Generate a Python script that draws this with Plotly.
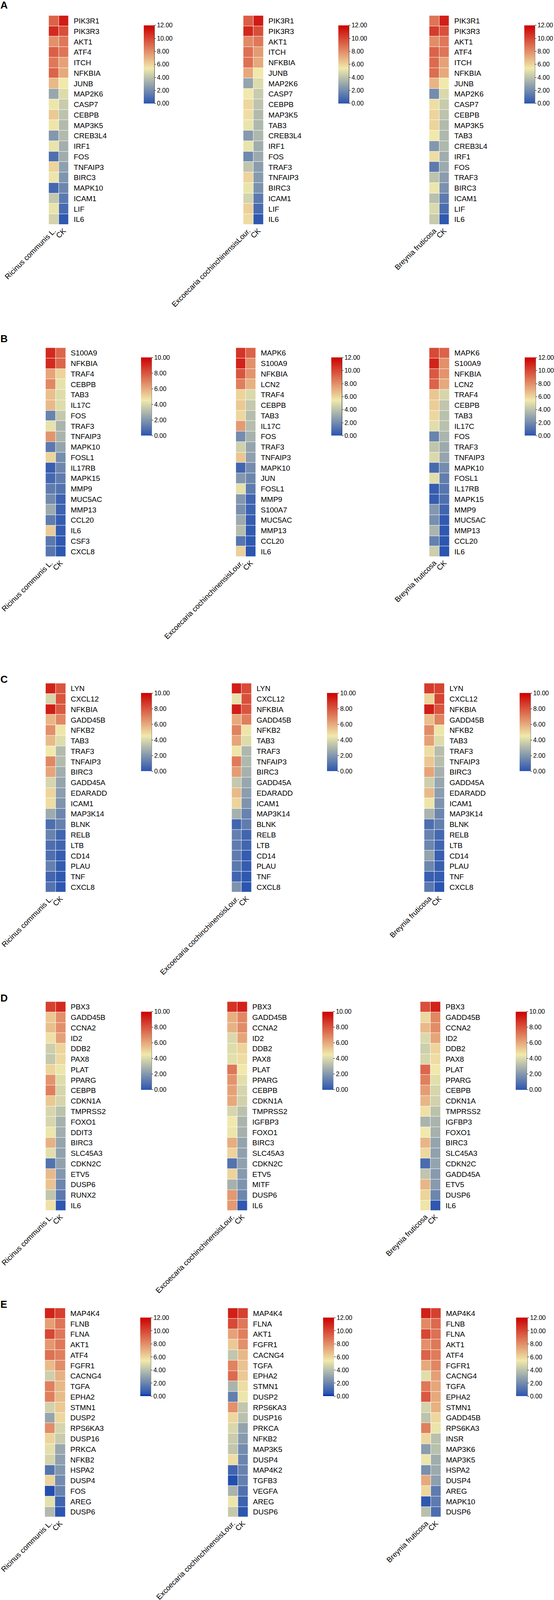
import plotly.graph_objects as go

WIDTH = 1418
HEIGHT = 4096  # the browser viewport stops here, the reference layout is 4260 tall
REF_HEIGHT = 4260

RICINUS = "Ricinus communis L."
EXCOECARIA = "Excoecaria cochinchinensisLour."
BREYNIA = "Breynia fruticosa"

# panel A
a1_genes = ["PIK3R1", "PIK3R3", "AKT1", "ATF4", "ITCH", "NFKBIA", "JUNB", "MAP2K6", "CASP7", "CEBPB",
            "MAP3K5", "CREB3L4", "IRF1", "FOS", "TNFAIP3", "BIRC3", "MAPK10", "ICAM1", "LIF", "IL6"]
a1_sample = [9.2, 10.8, 7.9, 9.3, 8.6, 9.2, 6.8, 3.0, 5.3, 6.3, 5.5, 2.4, 5.2, 1.0, 6.0, 5.3, 0.7, 4.2, 5.2, 4.6]
a1_ck = [11.2, 9.8, 8.6, 8.7, 7.4, 7.2, 5.4, 4.9, 4.3, 4.0, 3.7, 3.7, 3.3, 3.2, 2.7, 2.3, 1.8, 1.3, 0.8, 0.1]

a2_genes = ["PIK3R1", "PIK3R3", "AKT1", "ITCH", "NFKBIA", "JUNB", "MAP2K6", "CASP7", "CEBPB", "MAP3K5",
            "TAB3", "CREB3L4", "IRF1", "FOS", "TRAF3", "TNFAIP3", "BIRC3", "ICAM1", "LIF", "IL6"]
a2_sample = [9.3, 10.9, 8.1, 8.8, 8.8, 7.2, 2.9, 5.4, 5.9, 5.7, 5.2, 2.5, 5.2, 1.9, 4.1, 6.0, 5.2, 4.6, 6.1, 5.8]
a2_ck = [11.2, 9.8, 8.6, 7.6, 7.2, 5.4, 4.9, 4.3, 4.0, 3.7, 3.6, 3.6, 3.2, 3.1, 2.6, 2.5, 2.2, 1.3, 0.8, 0.1]

a3_genes = ["PIK3R1", "PIK3R3", "AKT1", "ATF4", "ITCH", "NFKBIA", "JUNB", "MAP2K6", "CASP7", "CEBPB",
            "MAP3K5", "TAB3", "CREB3L4", "IRF1", "FOS", "TRAF3", "BIRC3", "ICAM1", "LIF", "IL6"]
a3_sample = [8.7, 10.3, 8.0, 9.2, 9.0, 8.9, 6.9, 2.0, 5.7, 6.0, 6.0, 5.4, 2.4, 5.7, 1.4, 4.0, 5.3, 3.9, 4.8, 4.3]
a3_ck = [11.1, 9.7, 8.6, 8.7, 7.4, 7.2, 5.4, 4.8, 4.3, 4.0, 3.7, 3.6, 3.6, 3.2, 3.1, 2.6, 2.2, 1.4, 0.9, 0.1]

# panel B
b1_genes = ["S100A9", "NFKBIA", "TRAF4", "CEBPB", "TAB3", "IL17C", "FOS", "TRAF3", "TNFAIP3", "MAPK10",
            "FOSL1", "IL17RB", "MAPK15", "MMP9", "MUC5AC", "MMP13", "CCL20", "IL6", "CSF3", "CXCL8"]
b1_sample = [9.0, 9.0, 6.1, 6.8, 5.5, 5.6, 1.4, 4.3, 6.5, 1.1, 5.0, 0.3, 0.6, 1.2, 1.6, 2.6, 1.2, 5.2, 1.1, 1.0]
b1_ck = [7.6, 7.6, 5.0, 4.3, 4.1, 4.1, 3.5, 2.9, 2.9, 2.4, 1.7, 1.5, 1.2, 0.9, 0.4, 0.4, 0.2, 0.2, 0.1, 0.05]

b2_genes = ["MAPK6", "S100A9", "NFKBIA", "LCN2", "TRAF4", "CEBPB", "TAB3", "IL17C", "FOS", "TRAF3",
            "TNFAIP3", "MAPK10", "JUN", "FOSL1", "MMP9", "S100A7", "MUC5AC", "MMP13", "CCL20", "IL6"]
b2_sample = [10.5, 11.0, 9.6, 8.4, 6.0, 6.3, 5.9, 7.6, 2.0, 4.5, 6.4, 0.6, 2.4, 5.1, 2.4, 2.1, 3.1, 3.8, 1.2, 6.1]
b2_ck = [9.2, 7.9, 7.8, 7.0, 4.8, 4.2, 3.8, 3.8, 3.4, 2.9, 2.7, 2.0, 1.8, 1.4, 0.6, 0.5, 0.3, 0.2, 0.1, 0.05]

b3_genes = ["MAPK6", "S100A9", "NFKBIA", "LCN2", "TRAF4", "CEBPB", "TAB3", "IL17C", "FOS", "TRAF3",
            "TNFAIP3", "MAPK10", "FOSL1", "IL17RB", "MAPK15", "MMP9", "MUC5AC", "MMP13", "CCL20", "IL6"]
b3_sample = [9.9, 11.0, 9.5, 9.2, 6.4, 6.2, 5.9, 5.0, 1.7, 4.1, 4.8, 0.8, 5.0, 0.3, 0.3, 2.4, 2.1, 3.5, 1.6, 4.4]
b3_ck = [9.2, 7.9, 7.8, 7.2, 4.7, 4.1, 3.9, 3.9, 3.5, 3.1, 2.9, 2.0, 1.5, 1.2, 1.0, 0.6, 0.2, 0.1, 0.05, 0.0]

# panel C
c_genes = ["LYN", "CXCL12", "NFKBIA", "GADD45B", "NFKB2", "TAB3", "TRAF3", "TNFAIP3", "BIRC3", "GADD45A",
           "EDARADD", "ICAM1", "MAP3K14", "BLNK", "RELB", "LTB", "CD14", "PLAU", "TNF", "CXCL8"]
c1_sample = [9.2, 3.9, 9.3, 5.7, 6.6, 5.6, 4.5, 6.8, 6.1, 3.9, 5.0, 4.8, 2.6, 0.8, 1.4, 0.8, 0.8, 1.3, 0.5, 0.9]
c1_ck = [8.0, 8.0, 7.9, 6.8, 4.6, 4.1, 3.1, 3.1, 2.7, 2.4, 2.2, 1.9, 1.5, 1.3, 0.5, 0.5, 0.2, 0.2, 0.1, 0.05]
c2_sample = [9.3, 4.3, 9.3, 6.0, 6.9, 6.1, 4.6, 7.1, 6.3, 3.5, 5.6, 5.0, 2.8, 0.5, 1.3, 1.2, 1.2, 1.1, 0.5, 1.9]
c2_ck = [8.2, 8.1, 8.0, 7.0, 4.6, 4.1, 3.0, 3.0, 2.8, 2.5, 2.2, 1.9, 1.4, 1.2, 0.5, 0.5, 0.2, 0.2, 0.1, 0.0]
c3_sample = [8.6, 5.0, 9.3, 5.5, 6.7, 6.2, 4.8, 5.3, 6.1, 3.7, 5.6, 4.6, 2.9, 0.8, 1.4, 1.5, 2.4, 1.5, 0.3, 1.1]
c3_ck = [8.4, 8.4, 8.0, 6.9, 4.6, 4.1, 3.2, 3.2, 2.8, 2.5, 2.2, 1.9, 1.5, 1.3, 0.6, 0.5, 0.3, 0.3, 0.2, 0.0]

# panel D
d1_genes = ["PBX3", "GADD45B", "CCNA2", "ID2", "DDB2", "PAX8", "PLAT", "PPARG", "CEBPB", "CDKN1A",
            "TMPRSS2", "FOXO1", "DDIT3", "BIRC3", "SLC45A3", "CDKN2C", "ETV5", "DUSP6", "RUNX2", "IL6"]
d1_sample = [8.5, 5.3, 5.5, 4.7, 3.7, 3.5, 5.0, 6.5, 7.0, 5.3, 3.9, 3.9, 4.4, 5.8, 4.2, 0.9, 5.6, 5.4, 3.4, 4.7]
d1_ck = [9.0, 6.6, 6.6, 6.2, 5.0, 4.9, 4.4, 4.1, 3.9, 3.9, 3.3, 2.8, 2.7, 2.4, 2.3, 2.3, 2.0, 1.5, 1.1, 0.05]

d2_genes = ["PBX3", "GADD45B", "CCNA2", "ID2", "DDB2", "PAX8", "PLAT", "PPARG", "CEBPB", "CDKN1A",
            "TMPRSS2", "IGFBP3", "FOXO1", "BIRC3", "SLC45A3", "CDKN2C", "ETV5", "MITF", "DUSP6", "IL6"]
d2_sample = [8.8, 5.9, 5.8, 4.0, 4.1, 4.2, 7.2, 6.5, 6.2, 6.0, 3.9, 4.5, 4.4, 5.9, 5.0, 0.9, 5.0, 2.8, 6.4, 6.4]
d2_ck = [9.2, 6.8, 6.7, 6.1, 5.0, 4.8, 4.5, 4.2, 3.9, 3.8, 3.3, 2.9, 2.8, 2.4, 2.3, 2.3, 2.1, 1.9, 1.5, 0.1]

d3_genes = ["PBX3", "GADD45B", "CCNA2", "ID2", "DDB2", "PAX8", "PLAT", "PPARG", "CEBPB", "CDKN1A",
            "TMPRSS2", "IGFBP3", "FOXO1", "BIRC3", "SLC45A3", "CDKN2C", "GADD45A", "ETV5", "DUSP6", "IL6"]
d3_sample = [8.1, 4.9, 5.6, 4.0, 3.7, 3.9, 7.6, 7.0, 6.3, 5.7, 4.7, 2.9, 4.5, 5.7, 4.9, 0.7, 3.4, 5.7, 5.0, 4.6]
d3_ck = [9.2, 6.8, 6.7, 6.1, 5.0, 4.8, 4.5, 4.2, 3.9, 3.8, 3.3, 2.9, 2.8, 2.4, 2.3, 2.4, 2.1, 2.1, 1.5, 0.1]

# panel E
e1_genes = ["MAP4K4", "FLNB", "FLNA", "AKT1", "ATF4", "FGFR1", "CACNG4", "TGFA", "EPHA2", "STMN1",
            "DUSP2", "RPS6KA3", "DUSP16", "PRKCA", "NFKB2", "HSPA2", "DUSP4", "FOS", "AREG", "DUSP6"]
e1_sample = [11.0, 7.5, 10.0, 7.7, 8.8, 6.7, 4.5, 8.4, 8.4, 4.6, 3.1, 8.0, 6.0, 5.1, 4.7, 1.4, 6.0, 0.3, 5.1, 3.8]
e1_ck = [10.2, 8.7, 8.6, 8.6, 8.4, 8.0, 7.0, 6.8, 6.7, 6.3, 5.9, 4.7, 4.4, 3.2, 2.9, 2.6, 2.2, 1.9, 0.9, 0.4]

e2_genes = ["MAP4K4", "FLNA", "AKT1", "FGFR1", "CACNG4", "TGFA", "EPHA2", "STMN1", "DUSP2", "RPS6KA3",
            "DUSP16", "PRKCA", "NFKB2", "MAP3K5", "DUSP4", "MAP4K2", "TGFB3", "VEGFA", "AREG", "DUSP6"]
e2_sample = [11.1, 9.9, 7.4, 6.3, 4.2, 8.3, 9.0, 3.6, 1.8, 7.9, 5.9, 4.8, 4.4, 4.2, 5.7, 0.9, 0.3, 3.6, 5.3, 4.3]
e2_ck = [10.2, 8.6, 8.4, 7.9, 6.8, 6.5, 6.3, 5.7, 5.3, 4.2, 4.0, 3.0, 2.7, 2.2, 2.0, 1.9, 1.8, 1.3, 0.8, 0.4]

e3_genes = ["MAP4K4", "FLNB", "FLNA", "AKT1", "ATF4", "FGFR1", "CACNG4", "TGFA", "EPHA2", "STMN1",
            "GADD45B", "RPS6KA3", "INSR", "MAP3K6", "MAP3K5", "HSPA2", "DUSP4", "AREG", "MAPK10", "DUSP6"]
e3_sample = [11.1, 8.1, 10.0, 7.9, 9.2, 7.2, 5.0, 8.6, 9.5, 4.6, 4.0, 8.4, 5.9, 2.6, 5.3, 2.1, 7.2, 5.9, 0.1, 3.9]
e3_ck = [10.2, 9.0, 8.8, 8.6, 8.5, 8.2, 7.5, 7.3, 7.2, 7.0, 5.9, 5.2, 3.9, 3.9, 3.2, 3.1, 2.7, 1.4, 1.4, 0.9]

COLORSCALE = [[0.0, "#2b55b0"], [0.45, "#f0e9ab"], [1.0, "#cc0000"]]
# the first two bars of panel E run down to a deeper blue
COLORSCALE_DEEP = [[0.0, "#0028a8"], [0.03, "#2b55b0"], [0.45, "#f0e9ab"], [1.0, "#cc0000"]]

# genes, sample values, ck values, sample name, zmax, colorscale,
# heatmap left/right, heatmap top/bottom, colorbar left/right, colorbar top/bottom (pixels of the reference)
panels = [
    (a1_genes, a1_sample, a1_ck, RICINUS, 12, COLORSCALE, 124.7, 176, 41.7, 598, 368.3, 395.3, 67.8, 275.4),
    (a2_genes, a2_sample, a2_ck, EXCOECARIA, 12, COLORSCALE, 622.7, 674.3, 41.7, 598, 866.3, 893.3, 67.8, 275.4),
    (a3_genes, a3_sample, a3_ck, BREYNIA, 12, COLORSCALE, 1098.7, 1150, 41.7, 598, 1342.3, 1369, 67.8, 275.4),
    (b1_genes, b1_sample, b1_ck, RICINUS, 10, COLORSCALE, 116.7, 168.2, 926, 1482.5, 360.8, 388, 952, 1160),
    (b2_genes, b2_sample, b2_ck, EXCOECARIA, 12, COLORSCALE, 604, 654.7, 926, 1482.5, 848, 875.4, 952, 1160),
    (b3_genes, b3_sample, b3_ck, BREYNIA, 12, COLORSCALE, 1098.7, 1150.3, 926, 1482.5, 1342.8, 1371, 952, 1160),
    (c_genes, c1_sample, c1_ck, RICINUS, 10, COLORSCALE, 116.7, 168.2, 1819.2, 2376, 360.8, 388, 1845.3, 2053.4),
    (c_genes, c2_sample, c2_ck, EXCOECARIA, 10, COLORSCALE, 593.2, 643.9, 1819.2, 2376, 836.5, 863.6, 1845.3, 2053.4),
    (c_genes, c3_sample, c3_ck, BREYNIA, 10, COLORSCALE, 1086, 1137.6, 1819.2, 2376, 1330, 1358, 1845.3, 2053.4),
    (d1_genes, d1_sample, d1_ck, RICINUS, 10, COLORSCALE, 116.7, 168.2, 2667, 3223.7, 360.8, 388, 2693, 2901.2),
    (d2_genes, d2_sample, d2_ck, EXCOECARIA, 10, COLORSCALE, 581.5, 633, 2667, 3223.7, 824.7, 852.7, 2693, 2901.2),
    (d3_genes, d3_sample, d3_ck, BREYNIA, 10, COLORSCALE, 1076, 1127.7, 2667, 3223.7, 1320, 1348, 2693, 2901.2),
    (e1_genes, e1_sample, e1_ck, RICINUS, 12, COLORSCALE_DEEP, 114.8, 167.3, 3482.8, 4039.6, 359, 386, 3509, 3717.6),
    (e2_genes, e2_sample, e2_ck, EXCOECARIA, 12, COLORSCALE_DEEP, 583.3, 634.8, 3482.8, 4039.6, 826.5, 854.5, 3509, 3717.6),
    (e3_genes, e3_sample, e3_ck, BREYNIA, 12, COLORSCALE, 1078, 1128.6, 3482.8, 4039.6, 1321, 1350, 3509, 3717.6),
]

# panel letter, centre y in reference pixels
letters = [("A", 13.5), ("B", 902), ("C", 1809), ("D", 2657), ("E", 3473)]


def px_x(x):
    return x / WIDTH


def px_y(y):
    return 1 - y / REF_HEIGHT


fig = go.Figure()

for i, (genes, sample, ck, name, zmax, scale, x0, x1, y0, y1, cx0, cx1, cy0, cy1) in enumerate(panels, start=1):
    xname = "x" if i == 1 else f"x{i}"
    yname = "y" if i == 1 else f"y{i}"

    fig.add_trace(
        go.Heatmap(
            z=[[s, c] for s, c in zip(sample, ck)],
            x=[name, "CK"],
            y=genes,
            xaxis=xname,
            yaxis=yname,
            zmin=0,
            zmax=zmax,
            colorscale=scale,
            xgap=1,
            ygap=1,
            colorbar=dict(
                x=px_x(cx0),
                xanchor="left",
                xpad=0,
                y=px_y(cy1),
                yanchor="bottom",
                ypad=0,
                len=(cy1 - cy0) / REF_HEIGHT,
                lenmode="fraction",
                thickness=cx1 - cx0,
                thicknessmode="pixels",
                outlinewidth=0,
                ticks="outside",
                ticklen=4,
                tickwidth=1,
                tickcolor="black",
                tick0=0,
                dtick=2,
                tickformat=".2f",
                tickfont=dict(family="Liberation Sans", size=16, color="black"),
            ),
        )
    )

    fig.update_layout({
        f"xaxis{'' if i == 1 else i}": dict(
            domain=[px_x(x0), px_x(x1)],
            anchor=yname,
            tickangle=-45,
            ticks="",
            showgrid=False,
            zeroline=False,
            showline=False,
            tickfont=dict(family="Liberation Sans", size=19, color="black"),
        ),
        f"yaxis{'' if i == 1 else i}": dict(
            domain=[px_y(y1), px_y(y0)],
            anchor=xname,
            side="right",
            autorange="reversed",
            ticks="outside",
            ticklen=8,
            tickwidth=0,
            tickcolor="rgba(0,0,0,0)",
            showgrid=False,
            zeroline=False,
            showline=False,
            dtick=1,
            tickfont=dict(family="Liberation Sans", size=19, color="black"),
        ),
    })

    # black spine on the right of the colour bar
    fig.add_shape(
        type="line",
        xref="paper",
        yref="paper",
        x0=px_x(cx1),
        x1=px_x(cx1),
        y0=px_y(cy0),
        y1=px_y(cy1),
        line=dict(color="black", width=1),
    )

for letter, y in letters:
    fig.add_annotation(
        text=f"<b>{letter}</b>",
        xref="paper",
        yref="paper",
        x=0,
        y=px_y(y),
        xanchor="left",
        yanchor="middle",
        showarrow=False,
        borderpad=0,
        font=dict(family="Liberation Sans", size=26, color="black"),
    )

fig.update_layout(
    width=WIDTH,
    height=HEIGHT,
    autosize=False,
    margin=dict(l=0, r=0, t=0, b=0, autoexpand=False),
    paper_bgcolor="white",
    plot_bgcolor="white",
    showlegend=False,
)

fig.write_html(
    "out.html",
    config={"displayModeBar": False},
    post_script="document.body.style.margin='0';",
)
